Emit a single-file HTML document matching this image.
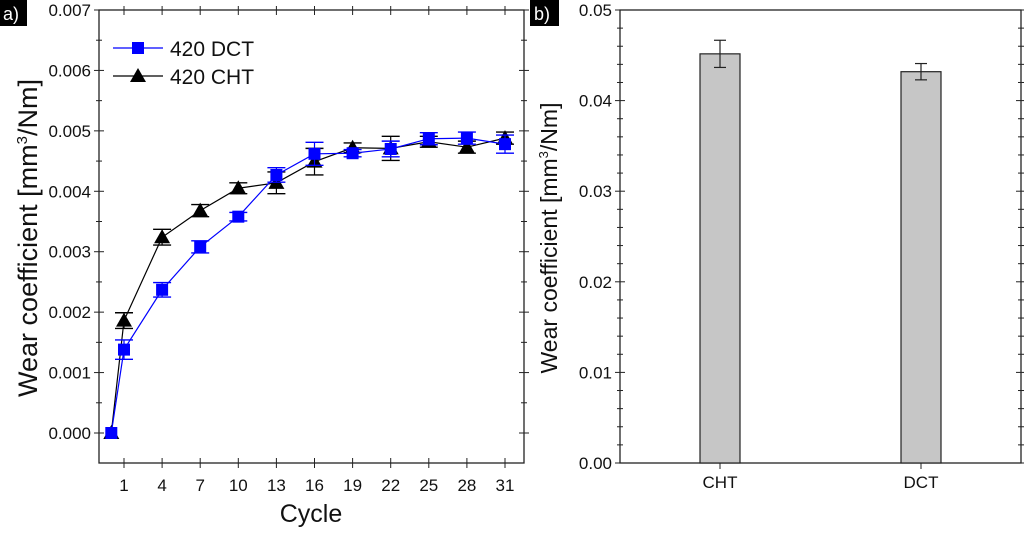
<!DOCTYPE html>
<html><head><meta charset="utf-8"><style>
body{margin:0;background:#fff;width:1024px;height:528px;overflow:hidden}
svg text{font-family:"Liberation Sans",sans-serif;fill:#111}
</style></head><body>
<svg id="s" width="1024" height="528"></svg>
<script>
const cycles=[0,1,4,7,10,13,16,19,22,25,28,31];
const dctVals=[0,0.00138,0.00237,0.00308,0.00358,0.00427,0.00462,0.00463,0.00470,0.00487,0.00488,0.00478];
const dctErr=[0,0.00016,0.00012,0.0001,0.00007,0.00012,0.00019,0.00006,0.00013,0.0001,0.0001,0.00015];
const chtVals=[0,0.00186,0.00324,0.00368,0.00405,0.00414,0.00449,0.00472,0.00471,0.00482,0.00473,0.00488];
const chtErr=[0,0.00013,0.00013,0.0001,0.00009,0.00018,0.00022,0.00008,0.0002,0.00009,0.0001,0.0001];
const xTicks=[1,4,7,10,13,16,19,22,25,28,31];
const yTicksA=["0.000","0.001","0.002","0.003","0.004","0.005","0.006","0.007"];
const barCats=["CHT","DCT"];
const barVals=[0.04516,0.04319];
const barErr=[0.0015,0.0009];
const yTicksB=["0.00","0.01","0.02","0.03","0.04","0.05"];

const S=document.getElementById('s');const NS='http://www.w3.org/2000/svg';
function el(t,a,txt){const e=document.createElementNS(NS,t);for(const k in a)e.setAttribute(k,a[k]);if(txt!==undefined)e.textContent=txt;S.appendChild(e);return e;}
function ln(x1,y1,x2,y2,c,w){return el('line',{x1,y1,x2,y2,stroke:c||'#222','stroke-width':w||1});}

// Panel a
const L=99,R=524,T=10,B=463;
const xA=c=>124+(c-1)*(505-124)/30;
const yA=v=>433-v*(433-10)/0.007;
let f=el('rect',{x:L,y:T,width:R-L,height:B-T,fill:'none',stroke:'#222','stroke-width':1.3});

for(let i=0;i<=14;i++){const v=i*0.0005,y=yA(v),len=i%2?3:5;
 ln(L-len,y,L+len,y);ln(R-len,y,R+len,y);}
yTicksA.forEach(t=>{const y=yA(+t);const e=el('text',{x:L-8,y:y+6,'text-anchor':'end','font-size':17},t);
 });
xTicks.forEach(c=>{const x=xA(c);ln(x,B-5,x,B+5);ln(x,T-4,x,T+5);
 const e=el('text',{x:x,y:B+28,'text-anchor':'middle','font-size':17},c);
 });
let t=el('text',{x:311,y:522,'text-anchor':'middle','font-size':25},'Cycle');

t=el('text',{transform:'translate(37,238) rotate(-90)','text-anchor':'middle','font-size':27});
t.innerHTML='Wear coefficient [mm<tspan dy="-10" font-size="15">3</tspan><tspan dy="10">/Nm]</tspan>';


function series(vals,err,col,name,marker){
 const pts=cycles.map((c,i)=>xA(c)+','+yA(vals[i])).join(' ');
 const p=el('polyline',{points:pts,fill:'none',stroke:col,'stroke-width':1.2});
 
 cycles.forEach((c,i)=>{const x=xA(c);
  if(err[i]>0){const y1=yA(vals[i]+err[i]),y2=yA(vals[i]-err[i]);
   ln(x,y1,x,y2,col,1.2);ln(x-9,y1,x+9,y1,col,1.4);ln(x-9,y2,x+9,y2,col,1.4);}
  const y=yA(vals[i]);let m;
  if(marker==='sq')m=el('rect',{x:x-6,y:y-6,width:12,height:12,fill:col});
  else m=el('polygon',{points:`${x},${y-8} ${x+8},${y+6} ${x-8},${y+6}`,fill:col});
  });
}
series(chtVals,chtErr,'#000','cht-series','tri');
series(dctVals,dctErr,'#0000ff','dct-series','sq');
// legend
ln(113,48,163,48,'#0000ff',1.2);let m=el('rect',{x:132,y:42,width:12,height:12,fill:'#0000ff'});

t=el('text',{x:170,y:56,'font-size':21},'420 DCT');
ln(113,76,163,76,'#000',1.2);m=el('polygon',{points:'138,68 146,82 130,82',fill:'#000'});

t=el('text',{x:170,y:84,'font-size':21},'420 CHT');
// panel label a
let r=el('rect',{x:0,y:0,width:27,height:26,fill:'#000'});
t=el('text',{x:3,y:20,'font-size':18,style:'fill:#fff'},'a)');

// Panel b
const L2=620,R2=1021;
const yB=v=>463-v*(463-10)/0.05;
const xB=i=>[720,921][i];
f=el('rect',{x:L2,y:T,width:R2-L2,height:B-T,fill:'none',stroke:'#222','stroke-width':1.3});

for(let i=0;i<=25;i++){const y=yB(i*0.002),len=i%5?3:5;ln(L2-len,y,L2+len,y);ln(R2-len,y,R2+len,y);}
yTicksB.forEach(tk=>{const y=yB(+tk);const e=el('text',{x:L2-8,y:y+6,'text-anchor':'end','font-size':17},tk);
 });
barCats.forEach((c,i)=>{const x=xB(i);
 const b=el('rect',{x:x-20,y:yB(barVals[i]),width:40,height:B-yB(barVals[i]),fill:'#c6c6c6',stroke:'#222','stroke-width':1.2});
 
 const y1=yB(barVals[i]+barErr[i]),y2=yB(barVals[i]-barErr[i]);
 ln(x,y1,x,y2,'#222',1.2);ln(x-6,y1,x+6,y1,'#222',1.2);ln(x-6,y2,x+6,y2,'#222',1.2);
 ln(x,B,x,B+6);
 const e=el('text',{x:x,y:B+25,'text-anchor':'middle','font-size':17},c);
 });
t=el('text',{transform:'translate(557,238) rotate(-90)','text-anchor':'middle','font-size':23});
t.innerHTML='Wear coefficient [mm<tspan dy="-9" font-size="13">3</tspan><tspan dy="9">/Nm]</tspan>';

r=el('rect',{x:530,y:0,width:29,height:26,fill:'#000'});
t=el('text',{x:534,y:20,'font-size':18,style:'fill:#fff'},'b)');
</script>
</body></html>
